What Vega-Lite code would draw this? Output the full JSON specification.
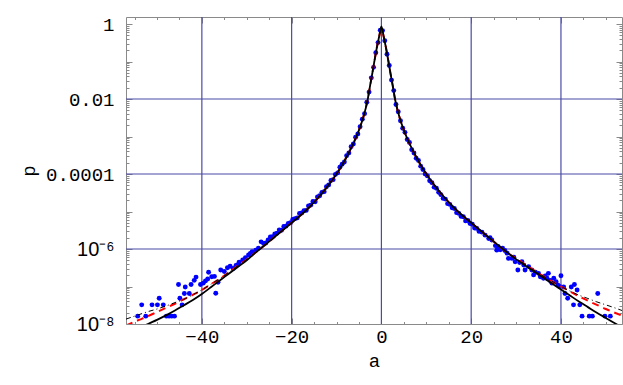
{
"$schema": "https://vega.github.io/schema/vega-lite/v6.json",
"width": 496, "height": 307,
"autosize": "none",
"padding": {"left": 126, "top": 17, "right": 1, "bottom": 61},
"background": "white",
"view": {"stroke": "#8a8a8a", "strokeWidth": 1},
"config": {"axis": {"labelFont": "Liberation Mono", "labelFontSize": 19, "labelColor": "#000000", "titleFont": "Liberation Mono", "titleFontSize": 19, "titleFontWeight": "normal", "titleColor": "#000000", "tickColor": "#8a8a8a", "domain": false, "grid": false, "labelOverlap": false, "labelFlush": false, "labelBound": false}},
"datasets": {
"vgrid": [{"a": -40}, {"a": -20}, {"a": 0}, {"a": 20}, {"a": 40}],
"hgrid": [{"p": 0.01}, {"p": 0.0001}, {"p": 0.000001}],
"lines": [
{"a": -56.9, "s": 5.25e-9, "d": 9.12e-9, "dd": 1.35e-8},
{"a": -54, "s": 7.59e-9, "d": 1.29e-8, "dd": 1.78e-8},
{"a": -52, "s": 1e-8, "d": 1.62e-8, "dd": 2.14e-8},
{"a": -50, "s": 1.29e-8, "d": 2.09e-8, "dd": 2.51e-8},
{"a": -48, "s": 1.70e-8, "d": 2.69e-8, "dd": 3.02e-8},
{"a": -46, "s": 2.29e-8, "d": 3.47e-8, "dd": 3.72e-8},
{"a": -44, "s": 3.16e-8, "d": 4.57e-8, "dd": 4.57e-8},
{"a": -42, "s": 4.37e-8, "d": 6.03e-8, "dd": 6.03e-8},
{"a": -40, "s": 6.31e-8, "d": 8.13e-8, "dd": 8.13e-8},
{"a": -38, "s": 9.55e-8, "d": 1.15e-7, "dd": 1.15e-7},
{"a": -36, "s": 1.45e-7, "d": 1.62e-7, "dd": 1.62e-7},
{"a": -34, "s": 2.19e-7, "d": 2.40e-7, "dd": 2.40e-7},
{"a": -32, "s": 3.31e-7, "d": 3.55e-7, "dd": 3.55e-7},
{"a": -30, "s": 5.01e-7, "d": 5.25e-7, "dd": 5.25e-7},
{"a": -28, "s": 8.13e-7, "d": 8.13e-7, "dd": 8.13e-7},
{"a": -26, "s": 1.26e-6, "d": 1.26e-6, "dd": 1.26e-6},
{"a": -24, "s": 2.00e-6, "d": 2.00e-6, "dd": 2.00e-6},
{"a": -22, "s": 3.16e-6, "d": 3.16e-6, "dd": 3.16e-6},
{"a": -20, "s": 5.01e-6, "d": 5.01e-6, "dd": 5.01e-6},
{"a": -18, "s": 7.94e-6, "d": 7.94e-6, "dd": 7.94e-6},
{"a": -16, "s": 1.32e-5, "d": 1.32e-5, "dd": 1.32e-5},
{"a": -14, "s": 2.40e-5, "d": 2.40e-5, "dd": 2.40e-5},
{"a": -12, "s": 4.68e-5, "d": 4.68e-5, "dd": 4.68e-5},
{"a": -10, "s": 1.00e-4, "d": 1.00e-4, "dd": 1.00e-4},
{"a": -9, "s": 1.55e-4, "d": 1.55e-4, "dd": 1.55e-4},
{"a": -8, "s": 2.51e-4, "d": 2.51e-4, "dd": 2.51e-4},
{"a": -7, "s": 4.27e-4, "d": 4.27e-4, "dd": 4.27e-4},
{"a": -6, "s": 7.59e-4, "d": 7.59e-4, "dd": 7.59e-4},
{"a": -5, "s": 1.48e-3, "d": 1.48e-3, "dd": 1.48e-3},
{"a": -4, "s": 3.39e-3, "d": 3.39e-3, "dd": 3.39e-3},
{"a": -3.5, "s": 5.62e-3, "d": 5.62e-3, "dd": 5.62e-3},
{"a": -3, "s": 1.05e-2, "d": 1.05e-2, "dd": 1.05e-2},
{"a": -2.5, "s": 2.34e-2, "d": 2.34e-2, "dd": 2.34e-2},
{"a": -2, "s": 5.01e-2, "d": 5.01e-2, "dd": 5.01e-2},
{"a": -1.5, "s": 0.112, "d": 0.112, "dd": 0.112},
{"a": -1, "s": 0.240, "d": 0.240, "dd": 0.240},
{"a": -0.5, "s": 0.468, "d": 0.468, "dd": 0.468},
{"a": 0, "s": 0.871, "d": 0.708, "dd": 0.708},
{"a": 0.5, "s": 0.468, "d": 0.468, "dd": 0.468},
{"a": 1, "s": 0.240, "d": 0.240, "dd": 0.240},
{"a": 1.5, "s": 0.112, "d": 0.112, "dd": 0.112},
{"a": 2, "s": 5.01e-2, "d": 5.01e-2, "dd": 5.01e-2},
{"a": 2.5, "s": 2.34e-2, "d": 2.34e-2, "dd": 2.34e-2},
{"a": 3, "s": 1.05e-2, "d": 1.05e-2, "dd": 1.05e-2},
{"a": 3.5, "s": 5.62e-3, "d": 5.62e-3, "dd": 5.62e-3},
{"a": 4, "s": 3.39e-3, "d": 3.39e-3, "dd": 3.39e-3},
{"a": 5, "s": 1.48e-3, "d": 1.48e-3, "dd": 1.48e-3},
{"a": 6, "s": 7.59e-4, "d": 7.59e-4, "dd": 7.59e-4},
{"a": 7, "s": 4.27e-4, "d": 4.27e-4, "dd": 4.27e-4},
{"a": 8, "s": 2.51e-4, "d": 2.51e-4, "dd": 2.51e-4},
{"a": 9, "s": 1.55e-4, "d": 1.55e-4, "dd": 1.55e-4},
{"a": 10, "s": 1.00e-4, "d": 1.00e-4, "dd": 1.00e-4},
{"a": 12, "s": 4.68e-5, "d": 4.68e-5, "dd": 4.68e-5},
{"a": 14, "s": 2.40e-5, "d": 2.40e-5, "dd": 2.40e-5},
{"a": 16, "s": 1.32e-5, "d": 1.32e-5, "dd": 1.32e-5},
{"a": 18, "s": 7.94e-6, "d": 7.94e-6, "dd": 7.94e-6},
{"a": 20, "s": 5.01e-6, "d": 5.01e-6, "dd": 5.01e-6},
{"a": 22, "s": 3.16e-6, "d": 3.16e-6, "dd": 3.16e-6},
{"a": 24, "s": 2.00e-6, "d": 2.00e-6, "dd": 2.00e-6},
{"a": 26, "s": 1.26e-6, "d": 1.26e-6, "dd": 1.26e-6},
{"a": 28, "s": 8.13e-7, "d": 8.13e-7, "dd": 8.13e-7},
{"a": 30, "s": 5.37e-7, "d": 5.62e-7, "dd": 5.62e-7},
{"a": 32, "s": 3.63e-7, "d": 3.89e-7, "dd": 3.89e-7},
{"a": 34, "s": 2.51e-7, "d": 2.69e-7, "dd": 2.69e-7},
{"a": 36, "s": 1.74e-7, "d": 1.91e-7, "dd": 1.91e-7},
{"a": 38, "s": 1.20e-7, "d": 1.38e-7, "dd": 1.38e-7},
{"a": 40, "s": 8.32e-8, "d": 1.00e-7, "dd": 1.00e-7},
{"a": 42, "s": 5.75e-8, "d": 7.41e-8, "dd": 7.59e-8},
{"a": 44, "s": 3.98e-8, "d": 5.50e-8, "dd": 5.89e-8},
{"a": 46, "s": 2.82e-8, "d": 4.17e-8, "dd": 4.79e-8},
{"a": 48, "s": 2.00e-8, "d": 3.24e-8, "dd": 3.89e-8},
{"a": 50, "s": 1.45e-8, "d": 2.51e-8, "dd": 3.24e-8},
{"a": 52, "s": 1.05e-8, "d": 2.00e-8, "dd": 2.69e-8},
{"a": 53.6, "s": 8.13e-9, "d": 1.66e-8, "dd": 2.29e-8}
],
"dots": [
{"a": -54.3, "p": 1.62e-8}, {"a": -53.4, "p": 3.24e-8}, {"a": -52.5, "p": 1.62e-8}, {"a": -51.1, "p": 3.24e-8},
{"a": -49.9, "p": 3.24e-8}, {"a": -49.5, "p": 4.86e-8}, {"a": -48.6, "p": 3.24e-8}, {"a": -47.9, "p": 1.62e-8},
{"a": -47.3, "p": 1.62e-8}, {"a": -46.7, "p": 1.62e-8}, {"a": -46.1, "p": 1.62e-8}, {"a": -45.2, "p": 1.13e-7},
{"a": -44.9, "p": 4.86e-8}, {"a": -44.4, "p": 3.24e-8}, {"a": -43.9, "p": 6.48e-8}, {"a": -43.7, "p": 9.72e-8},
{"a": -42.8, "p": 6.48e-8}, {"a": -42.4, "p": 1.13e-7}, {"a": -41.7, "p": 1.46e-7}, {"a": -41.3, "p": 1.78e-7},
{"a": -40.3, "p": 1.13e-7}, {"a": -39.7, "p": 1.23e-7}, {"a": -39.2, "p": 1.41e-7}, {"a": -38.7, "p": 1.58e-7},
{"a": -38.5, "p": 2.40e-7}, {"a": -37.8, "p": 1.82e-7}, {"a": -37.2, "p": 1.86e-7}, {"a": -36.9, "p": 6.61e-8},
{"a": -36.4, "p": 1.29e-7}, {"a": -35.8, "p": 2.75e-7}, {"a": -35.0, "p": 2.51e-7}, {"a": -34.3, "p": 3.16e-7},
{"a": -33.7, "p": 3.47e-7}, {"a": -33.0, "p": 3.02e-7}, {"a": -32.4, "p": 3.63e-7}, {"a": -32.0, "p": 3.80e-7},
{"a": -31.7, "p": 4.47e-7}, {"a": -30.9, "p": 5.13e-7}, {"a": -30.3, "p": 5.89e-7}, {"a": -29.6, "p": 6.92e-7},
{"a": -29.2, "p": 7.59e-7}, {"a": -28.8, "p": 8.51e-7}, {"a": -28.0, "p": 9.33e-7}, {"a": -27.4, "p": 1.05e-6},
{"a": -26.8, "p": 1.55e-6}, {"a": -26.25, "p": 1.41e-6}, {"a": -25.75, "p": 1.45e-6}, {"a": -25.25, "p": 1.74e-6},
{"a": -24.75, "p": 2.09e-6}, {"a": -24.25, "p": 2.14e-6}, {"a": -23.75, "p": 2.51e-6}, {"a": -23.25, "p": 2.63e-6},
{"a": -22.75, "p": 3.24e-6}, {"a": -22.25, "p": 3.16e-6}, {"a": -21.75, "p": 3.98e-6}, {"a": -21.25, "p": 4.07e-6},
{"a": -20.75, "p": 4.79e-6}, {"a": -20.25, "p": 5.01e-6}, {"a": -19.75, "p": 6.17e-6}, {"a": -19.25, "p": 6.46e-6},
{"a": -18.75, "p": 6.76e-6}, {"a": -18.25, "p": 8.91e-6}, {"a": -17.75, "p": 9.12e-6}, {"a": -17.25, "p": 1.05e-5},
{"a": -16.75, "p": 1.07e-5}, {"a": -16.25, "p": 1.41e-5}, {"a": -15.75, "p": 1.48e-5}, {"a": -15.25, "p": 1.86e-5},
{"a": -14.75, "p": 1.82e-5}, {"a": -14.25, "p": 2.45e-5}, {"a": -13.75, "p": 2.63e-5}, {"a": -13.25, "p": 3.24e-5},
{"a": -12.75, "p": 3.39e-5}, {"a": -12.25, "p": 4.57e-5}, {"a": -11.75, "p": 5.13e-5}, {"a": -11.25, "p": 6.76e-5},
{"a": -10.75, "p": 7.08e-5}, {"a": -10.25, "p": 9.77e-5}, {"a": -9.75, "p": 1.07e-4}, {"a": -9.25, "p": 1.51e-4},
{"a": -8.75, "p": 1.82e-4}, {"a": -8.25, "p": 2.09e-4}, {"a": -7.75, "p": 3.09e-4}, {"a": -7.25, "p": 3.63e-4},
{"a": -6.75, "p": 5.37e-4}, {"a": -6.25, "p": 6.31e-4}, {"a": -5.75, "p": 9.55e-4}, {"a": -5.25, "p": 1.17e-3},
{"a": -4.75, "p": 1.82e-3}, {"a": -4.25, "p": 2.88e-3}, {"a": -3.75, "p": 4.07e-3}, {"a": -3.25, "p": 8.22e-3},
{"a": -2.75, "p": 0.0153}, {"a": -2.25, "p": 0.0367}, {"a": -1.75, "p": 0.0700}, {"a": -1.25, "p": 0.172},
{"a": -0.75, "p": 0.320}, {"a": -0.25, "p": 0.684},
{"a": 0.25, "p": 0.668}, {"a": 0.75, "p": 0.359}, {"a": 1.25, "p": 0.157}, {"a": 1.75, "p": 0.0785},
{"a": 2.25, "p": 0.0320}, {"a": 2.75, "p": 0.0168}, {"a": 3.25, "p": 7.16e-3}, {"a": 3.75, "p": 4.57e-3},
{"a": 4.25, "p": 2.63e-3}, {"a": 4.75, "p": 1.66e-3}, {"a": 5.25, "p": 1.29e-3}, {"a": 5.75, "p": 8.32e-4},
{"a": 6.25, "p": 6.92e-4}, {"a": 6.75, "p": 4.47e-4}, {"a": 7.25, "p": 3.63e-4}, {"a": 7.75, "p": 2.63e-4},
{"a": 8.25, "p": 2.29e-4}, {"a": 8.75, "p": 1.62e-4}, {"a": 9.25, "p": 1.32e-4}, {"a": 9.75, "p": 1.00e-4},
{"a": 10.25, "p": 8.91e-5}, {"a": 10.75, "p": 6.61e-5}, {"a": 11.25, "p": 5.89e-5}, {"a": 11.75, "p": 4.47e-5},
{"a": 12.25, "p": 4.17e-5}, {"a": 12.75, "p": 3.24e-5}, {"a": 13.25, "p": 2.82e-5}, {"a": 13.75, "p": 2.24e-5},
{"a": 14.25, "p": 2.14e-5}, {"a": 14.75, "p": 1.62e-5}, {"a": 15.25, "p": 1.55e-5}, {"a": 15.75, "p": 1.26e-5},
{"a": 16.25, "p": 1.20e-5}, {"a": 16.75, "p": 9.33e-6}, {"a": 17.25, "p": 8.91e-6}, {"a": 17.75, "p": 7.41e-6},
{"a": 18.25, "p": 7.24e-6}, {"a": 18.75, "p": 5.62e-6}, {"a": 19.25, "p": 5.75e-6}, {"a": 19.75, "p": 4.79e-6},
{"a": 20.25, "p": 4.57e-6}, {"a": 20.75, "p": 3.63e-6}, {"a": 21.25, "p": 3.55e-6}, {"a": 21.75, "p": 2.95e-6},
{"a": 22.4, "p": 2.82e-6}, {"a": 23.1, "p": 2.34e-6}, {"a": 23.9, "p": 1.91e-6}, {"a": 24.2, "p": 2.00e-6},
{"a": 24.6, "p": 1.74e-6}, {"a": 25.4, "p": 1.23e-6}, {"a": 25.7, "p": 9.33e-7}, {"a": 26.0, "p": 1.17e-6},
{"a": 26.5, "p": 9.55e-7}, {"a": 27.0, "p": 1.05e-6}, {"a": 27.5, "p": 9.12e-7}, {"a": 28.0, "p": 7.76e-7},
{"a": 28.3, "p": 5.62e-7}, {"a": 29.1, "p": 5.62e-7}, {"a": 29.5, "p": 6.03e-7}, {"a": 29.8, "p": 4.57e-7},
{"a": 30.4, "p": 2.75e-7}, {"a": 30.8, "p": 4.37e-7}, {"a": 31.3, "p": 4.57e-7}, {"a": 31.7, "p": 3.72e-7},
{"a": 32.0, "p": 2.75e-7}, {"a": 32.8, "p": 3.39e-7}, {"a": 33.5, "p": 2.75e-7}, {"a": 33.9, "p": 2.04e-7},
{"a": 34.3, "p": 2.40e-7}, {"a": 35.0, "p": 2.24e-7}, {"a": 35.4, "p": 1.82e-7}, {"a": 36.1, "p": 1.66e-7},
{"a": 36.5, "p": 1.91e-7}, {"a": 36.9, "p": 1.66e-7}, {"a": 37.2, "p": 2.24e-7}, {"a": 37.6, "p": 1.45e-7},
{"a": 38.0, "p": 1.23e-7}, {"a": 38.4, "p": 1.66e-7}, {"a": 38.9, "p": 1.35e-7}, {"a": 39.3, "p": 1.10e-7},
{"a": 39.7, "p": 1.00e-7}, {"a": 40.0, "p": 1.94e-7}, {"a": 40.6, "p": 9.72e-8}, {"a": 40.9, "p": 6.48e-8},
{"a": 41.5, "p": 4.86e-8}, {"a": 42.3, "p": 9.72e-8}, {"a": 42.8, "p": 3.24e-8}, {"a": 43.0, "p": 1.13e-7},
{"a": 43.6, "p": 8.10e-8}, {"a": 44.2, "p": 3.24e-8}, {"a": 44.7, "p": 1.62e-8}, {"a": 46.3, "p": 1.62e-8},
{"a": 47.0, "p": 1.62e-8}, {"a": 48.2, "p": 6.48e-8}, {"a": 49.8, "p": 1.62e-8}, {"a": 51.0, "p": 1.62e-8}
]
},
"resolve": {"axis": {"x": "independent", "y": "independent"}},
"layer": [
{
"data": {"name": "vgrid"},
"mark": {"type": "rule", "color": "#4b4ba6", "strokeWidth": 1.2},
"encoding": {
"x": {"field": "a", "type": "quantitative", "scale": {"domain": [-56.9, 53.6], "nice": false, "zero": false},
"axis": {"orient": "bottom", "values": [-55, -50, -45, -40, -35, -30, -25, -20, -15, -10, -5, 0, 5, 10, 15, 20, 25, 30, 35, 40, 45, 50],
"labelExpr": "datum.value % 20 == 0 ? datum.label : ''",
"tickSize": {"condition": {"test": "datum.value % 20 == 0", "value": -6}, "value": -2.5},
"labelPadding": 9, "title": "a", "titlePadding": 2}}
}
},
{
"data": {"name": "hgrid"},
"mark": {"type": "rule", "color": "#4b4ba6", "strokeWidth": 1.2},
"encoding": {
"y": {"field": "p", "type": "quantitative", "scale": {"type": "log", "domain": [1e-8, 1.54], "nice": false},
"axis": {"orient": "left",
"values": [1e-8, 2e-8, 3e-8, 4e-8, 5e-8, 6e-8, 7e-8, 8e-8, 9e-8, 1e-7, 2e-7, 3e-7, 4e-7, 5e-7, 6e-7, 7e-7, 8e-7, 9e-7, 0.000001, 2e-6, 3e-6, 4e-6, 5e-6, 6e-6, 7e-6, 8e-6, 9e-6, 0.00001, 0.00002, 0.00003, 0.00004, 0.00005, 0.00006, 0.00007, 0.00008, 0.00009, 0.0001, 0.0002, 0.0003, 0.0004, 0.0005, 0.0006, 0.0007, 0.0008, 0.0009, 0.001, 0.002, 0.003, 0.004, 0.005, 0.006, 0.007, 0.008, 0.009, 0.01, 0.02, 0.03, 0.04, 0.05, 0.06, 0.07, 0.08, 0.09, 0.1, 0.2, 0.3, 0.4, 0.5, 0.6, 0.7, 0.8, 0.9, 1],
"labelExpr": "datum.value == 1 ? '1' : datum.value == 0.01 ? '0.01' : datum.value == 0.0001 ? '0.0001' : datum.value == 0.000001 ? '10⁻⁶' : datum.value == 0.00000001 ? '10⁻⁸' : ''",
"labelFont": {"condition": {"test": "datum.value < 0.00001", "value": "Liberation Sans"}, "value": "Liberation Mono"},
"labelFontSize": {"condition": {"test": "datum.value < 0.00001", "value": 20}, "value": 19},
"tickSize": {"condition": {"test": "datum.value == 1 || datum.value == 0.1 || datum.value == 0.01 || datum.value == 0.001 || datum.value == 0.0001 || datum.value == 0.00001 || datum.value == 0.000001 || datum.value == 0.0000001 || datum.value == 0.00000001", "value": -6}, "value": -3},
"labelPadding": 18, "title": "p", "titlePadding": 7}}
}
},
{
"data": {"name": "dots"},
"mark": {"type": "point", "filled": true, "color": "#0000ff", "size": 24, "opacity": 1, "strokeWidth": 0},
"encoding": {
"x": {"field": "a", "type": "quantitative", "scale": {"domain": [-56.9, 53.6], "nice": false, "zero": false},
"axis": {"orient": "top", "values": [-55, -50, -45, -40, -35, -30, -25, -20, -15, -10, -5, 0, 5, 10, 15, 20, 25, 30, 35, 40, 45, 50], "labels": false, "title": null,
"tickSize": {"condition": {"test": "datum.value % 20 == 0", "value": -6}, "value": -2.5}}},
"y": {"field": "p", "type": "quantitative", "scale": {"type": "log", "domain": [1e-8, 1.54], "nice": false},
"axis": {"orient": "right", "labels": false, "title": null,
"values": [1e-8, 2e-8, 3e-8, 4e-8, 5e-8, 6e-8, 7e-8, 8e-8, 9e-8, 1e-7, 2e-7, 3e-7, 4e-7, 5e-7, 6e-7, 7e-7, 8e-7, 9e-7, 0.000001, 2e-6, 3e-6, 4e-6, 5e-6, 6e-6, 7e-6, 8e-6, 9e-6, 0.00001, 0.00002, 0.00003, 0.00004, 0.00005, 0.00006, 0.00007, 0.00008, 0.00009, 0.0001, 0.0002, 0.0003, 0.0004, 0.0005, 0.0006, 0.0007, 0.0008, 0.0009, 0.001, 0.002, 0.003, 0.004, 0.005, 0.006, 0.007, 0.008, 0.009, 0.01, 0.02, 0.03, 0.04, 0.05, 0.06, 0.07, 0.08, 0.09, 0.1, 0.2, 0.3, 0.4, 0.5, 0.6, 0.7, 0.8, 0.9, 1],
"tickSize": {"condition": {"test": "datum.value == 1 || datum.value == 0.1 || datum.value == 0.01 || datum.value == 0.001 || datum.value == 0.0001 || datum.value == 0.00001 || datum.value == 0.000001 || datum.value == 0.0000001 || datum.value == 0.00000001", "value": -6}, "value": -3}}}
}
},
{
"data": {"name": "lines"},
"mark": {"type": "line", "color": "#ff0000", "strokeWidth": 2, "strokeDash": [7, 5], "clip": true, "interpolate": "monotone"},
"encoding": {
"x": {"field": "a", "type": "quantitative", "scale": {"domain": [-56.9, 53.6], "nice": false, "zero": false}, "axis": null},
"y": {"field": "d", "type": "quantitative", "scale": {"type": "log", "domain": [1e-8, 1.54], "nice": false}, "axis": null}
}
},
{
"data": {"name": "lines"},
"mark": {"type": "line", "color": "#000000", "strokeWidth": 1, "strokeDash": [5, 3, 1, 3], "clip": true, "interpolate": "monotone"},
"encoding": {
"x": {"field": "a", "type": "quantitative", "scale": {"domain": [-56.9, 53.6], "nice": false, "zero": false}, "axis": null},
"y": {"field": "dd", "type": "quantitative", "scale": {"type": "log", "domain": [1e-8, 1.54], "nice": false}, "axis": null}
}
},
{
"data": {"name": "lines"},
"mark": {"type": "line", "color": "#000000", "strokeWidth": 1.8, "clip": true, "interpolate": "monotone"},
"encoding": {
"x": {"field": "a", "type": "quantitative", "scale": {"domain": [-56.9, 53.6], "nice": false, "zero": false}, "axis": null},
"y": {"field": "s", "type": "quantitative", "scale": {"type": "log", "domain": [1e-8, 1.54], "nice": false}, "axis": null}
}
}
]
}
